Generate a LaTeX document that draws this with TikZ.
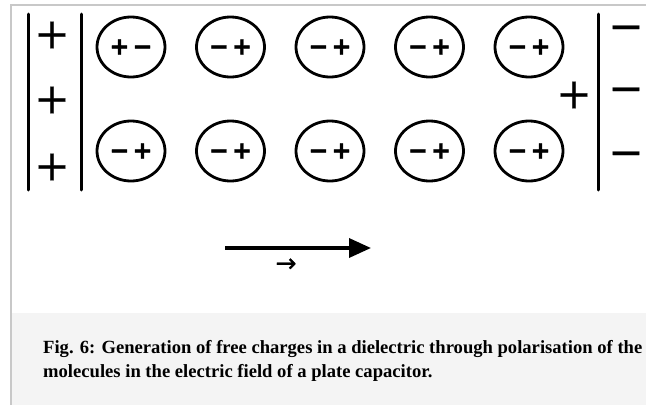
\documentclass[tikz,border=0pt]{standalone}
\usepackage{fontspec}
\setmainfont{Liberation Serif}
\newfontfamily\signfont{DejaVu Sans}[FakeBold=0.6]
\newfontfamily\signfontb{DejaVu Sans Bold}[FakeBold=1.5]
\usetikzlibrary{arrows.meta,shapes.geometric}
\definecolor{framegray}{HTML}{C8C8C8}
\definecolor{capbg}{HTML}{F4F4F4}
\begin{document}
\begin{tikzpicture}[x=1pt,y=-1pt,
  plate/.style={line width=3pt,line cap=round},
  molecule/.style={draw,line width=2.8pt,ellipse,minimum width=68pt,minimum height=60pt,inner sep=0pt,font=\signfontb\fontsize{24}{24}\selectfont},
  platesign/.style={inner sep=0pt,anchor=center,font=\signfont\fontsize{42}{42}\selectfont},
  captext/.style={inner sep=0pt,anchor=base west,font=\bfseries\fontsize{18.6}{24}\selectfont}]
\useasboundingbox (0,0) rectangle (646,405);
% frame and caption background
\fill[capbg] (12,313) rectangle (646,405);
\draw[framegray,line width=2pt] (10,5) -- (646,5);
\draw[framegray,line width=2pt] (11,4) -- (11,405);
% plates
\coordinate (pl1t) at (28,14); \coordinate (pl1b) at (28,190);
\coordinate (pl2t) at (81,14); \coordinate (pl2b) at (81,190);
\coordinate (prt) at (598,14); \coordinate (prb) at (598,190);
\draw[plate] (pl1t) -- (pl1b);
\draw[plate] (pl2t) -- (pl2b);
\draw[plate] (prt) -- (prb);
% plate charges
\node[platesign] (lp1) at (52,35) {+};
\node[platesign] (lp2) at (52,100) {+};
\node[platesign] (lp3) at (52,167) {+};
\node[platesign] (rm1) at (626,33) {−};
\node[platesign] (rm2) at (626,95) {−};
\node[platesign] (rm3) at (626,159) {−};
\node[platesign] (xp) at (574,95) {+};
% molecules
\node[molecule] (m11) at (131,47) {+\hspace{3pt}−};
\node[molecule] (m12) at (230.5,47) {−\hspace{3pt}+};
\node[molecule] (m13) at (330,47) {−\hspace{3pt}+};
\node[molecule] (m14) at (429.5,47) {−\hspace{3pt}+};
\node[molecule] (m15) at (529,47) {−\hspace{3pt}+};
\node[molecule] (m21) at (131,151) {−\hspace{3pt}+};
\node[molecule] (m22) at (230.5,151) {−\hspace{3pt}+};
\node[molecule] (m23) at (330,151) {−\hspace{3pt}+};
\node[molecule] (m24) at (429.5,151) {−\hspace{3pt}+};
\node[molecule] (m25) at (529,151) {−\hspace{3pt}+};
% field arrow
\coordinate (fa) at (225,248);
\coordinate (fb) at (371,248);
\draw[line width=3.5pt,-{Triangle[length=22pt,width=19pt]}] (fa) -- (fb);
\node[inner sep=0pt,font=\signfont\fontsize{25}{25}\selectfont] (evec) at (286,265) {→};
% caption
\node[captext] (cap1) at (43,353) {Fig. 6: Generation of free charges in a dielectric through polarisation of the};
\node[captext] (cap2) at (43,377) {molecules in the electric field of a plate capacitor.};
\end{tikzpicture}
\end{document}
